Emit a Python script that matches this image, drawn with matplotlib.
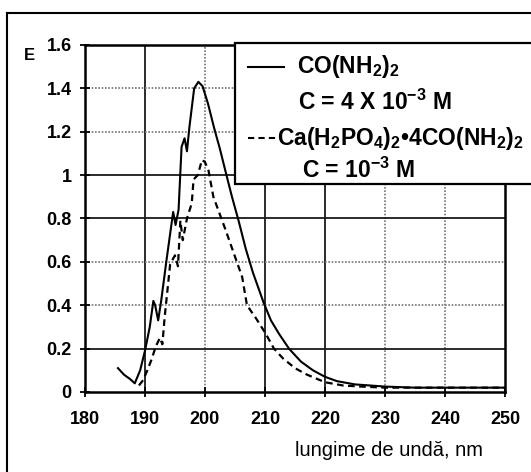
import numpy as np
import matplotlib.pyplot as plt
from matplotlib.lines import Line2D
from matplotlib.patches import Rectangle

plt.rcParams['font.family'] = ['Liberation Sans', 'DejaVu Sans']
plt.rcParams['mathtext.fontset'] = 'custom'
plt.rcParams['mathtext.rm'] = 'Liberation Sans:bold'
plt.rcParams['mathtext.bf'] = 'Liberation Sans:bold'
plt.rcParams['mathtext.it'] = 'Liberation Sans:bold'

# CO(NH2)2, C = 4x10^-3 M
wl_urea = [185.5, 186.5, 187.5, 188.3, 189.2, 190.0, 190.8, 191.4, 191.7, 192.2,
           192.7, 193.6, 194.7, 195.1, 195.6, 196.1, 196.6, 197.0, 197.4, 198.2,
           198.9, 199.6, 200.5, 201.5, 202.5, 203.4, 204.5, 205.6, 206.8, 208.0,
           209.8, 211.0, 212.3, 214.0, 216.0, 218.0, 220.0, 222.0, 225.0, 230.0,
           235.0, 240.0, 245.0, 250.0]
E_urea = [0.11, 0.08, 0.06, 0.04, 0.10, 0.19, 0.30, 0.42, 0.40, 0.33,
          0.42, 0.61, 0.83, 0.77, 0.84, 1.13, 1.17, 1.11, 1.22, 1.40,
          1.43, 1.41, 1.33, 1.22, 1.12, 1.02, 0.90, 0.79, 0.66, 0.55,
          0.41, 0.33, 0.27, 0.20, 0.14, 0.10, 0.07, 0.05, 0.035, 0.025,
          0.02, 0.02, 0.02, 0.02]

# Ca(H2PO4)2*4CO(NH2)2, C = 10^-3 M
wl_comp = [189.0, 189.7, 190.4, 191.1, 191.8, 192.5, 192.9, 193.3, 194.2, 195.0,
           195.5, 195.9, 196.3, 197.0, 197.8, 198.1, 198.8, 199.5, 200.0, 200.6,
           201.4, 202.6, 203.4, 204.8, 206.2, 207.0, 208.5, 210.1, 211.5, 213.0,
           215.0, 217.0, 220.0, 223.0, 226.0, 230.0, 235.0, 240.0, 245.0, 250.0]
E_comp = [0.03, 0.055, 0.10, 0.15, 0.21, 0.25, 0.22, 0.35, 0.59, 0.63,
          0.58, 0.79, 0.70, 0.80, 0.87, 0.98, 1.00, 1.07, 1.06, 1.02,
          0.90, 0.81, 0.75, 0.64, 0.53, 0.40, 0.34, 0.27, 0.20, 0.155,
          0.11, 0.08, 0.045, 0.03, 0.025, 0.02, 0.02, 0.02, 0.02, 0.02]

x_ticks = [180, 190, 200, 210, 220, 230, 240, 250]
y_ticks = [0, 0.2, 0.4, 0.6, 0.8, 1, 1.2, 1.4, 1.6]
y_labels = ['0', '0.2', '0.4', '0.6', '0.8', '1', '1.2', '1.4', '1.6']

fig = plt.figure(figsize=(5.31, 4.72), dpi=100)
ax = fig.add_axes([0.160, 0.1695, 0.791, 0.7352])

# outer frame (cropped at right and bottom)
fig.add_artist(Line2D([0.013, 0.013], [-0.1, 0.972], color='black', lw=1.5,
                      transform=fig.transFigure))
fig.add_artist(Line2D([0.013, 1.1], [0.972, 0.972], color='black', lw=1.5,
                      transform=fig.transFigure))

# grid, some lines darker than others like the scan
for x in [190, 210, 220]:
    ax.axvline(x, color='0.1', lw=1.3, zorder=1)
for x in [200, 230, 240]:
    ax.axvline(x, color='0.45', lw=1.2, ls=(0, (1, 1)), zorder=1)
for y in [0.2, 0.8, 1.0]:
    ax.axhline(y, color='0.1', lw=1.3, zorder=1)
for y in [0.4, 0.6, 1.2, 1.4]:
    ax.axhline(y, color='0.45', lw=1.2, ls=(0, (1, 1)), zorder=1)

ax.plot(wl_urea, E_urea, color='black', lw=1.5, zorder=3)
ax.plot(wl_comp, E_comp, color='black', lw=1.6, ls=(0, (3, 2)), zorder=3)

ax.set_xlim(180, 250)
ax.set_ylim(0, 1.6)
ax.set_xticks(x_ticks)
ax.set_yticks(y_ticks)
ax.set_yticklabels(y_labels)
ax.tick_params(direction='inout', length=7, width=1.3, labelsize=13, pad=6)
ax.tick_params(axis='x', pad=10)
for lab in ax.get_xticklabels() + ax.get_yticklabels():
    lab.set_fontweight('bold')
for s in ax.spines.values():
    s.set_linewidth(1.8)

ax.text(0.948, -0.17, 'lungime de undă, nm', transform=ax.transAxes,
        ha='right', va='center', fontsize=14.5)
fig.text(0.056, 0.883, 'E', ha='center', va='center', fontsize=12,
         fontweight='bold')

# legend box
lx0, ly0 = 235 / 531, 1 - 184 / 472
box = Rectangle((lx0, ly0), 1.0, (184 - 43) / 472, transform=fig.transFigure,
                facecolor='white', edgecolor='black', lw=1.6, zorder=5)
fig.add_artist(box)
fig.add_artist(Line2D([248 / 531, 284 / 531], [1 - 67 / 472] * 2, color='black',
                      lw=1.5, transform=fig.transFigure, zorder=6))
fig.add_artist(Line2D([248 / 531, 276 / 531], [1 - 138 / 472] * 2, color='black',
                      lw=1.5, ls=(0, (3, 2)), transform=fig.transFigure, zorder=6))
fs = 16.5
fig.text(297 / 531, 1 - 67 / 472, r'CO(NH$_2$)$_2$', fontsize=fs,
         fontweight='bold', va='center', zorder=7)
fig.text(298 / 531, 1 - 102 / 472, r'C = 4 X 10$^{-3}$ M', fontsize=fs,
         fontweight='bold', va='center', zorder=7)
fig.text(277 / 531, 1 - 138 / 472, r'Ca(H$_2$PO$_4$)$_2$•4CO(NH$_2$)$_2$',
         fontsize=fs, fontweight='bold', va='center', zorder=7)
fig.text(302 / 531, 1 - 170 / 472, r'C = 10$^{-3}$ M', fontsize=fs,
         fontweight='bold', va='center', zorder=7)

fig.savefig('out.png', dpi=100)
